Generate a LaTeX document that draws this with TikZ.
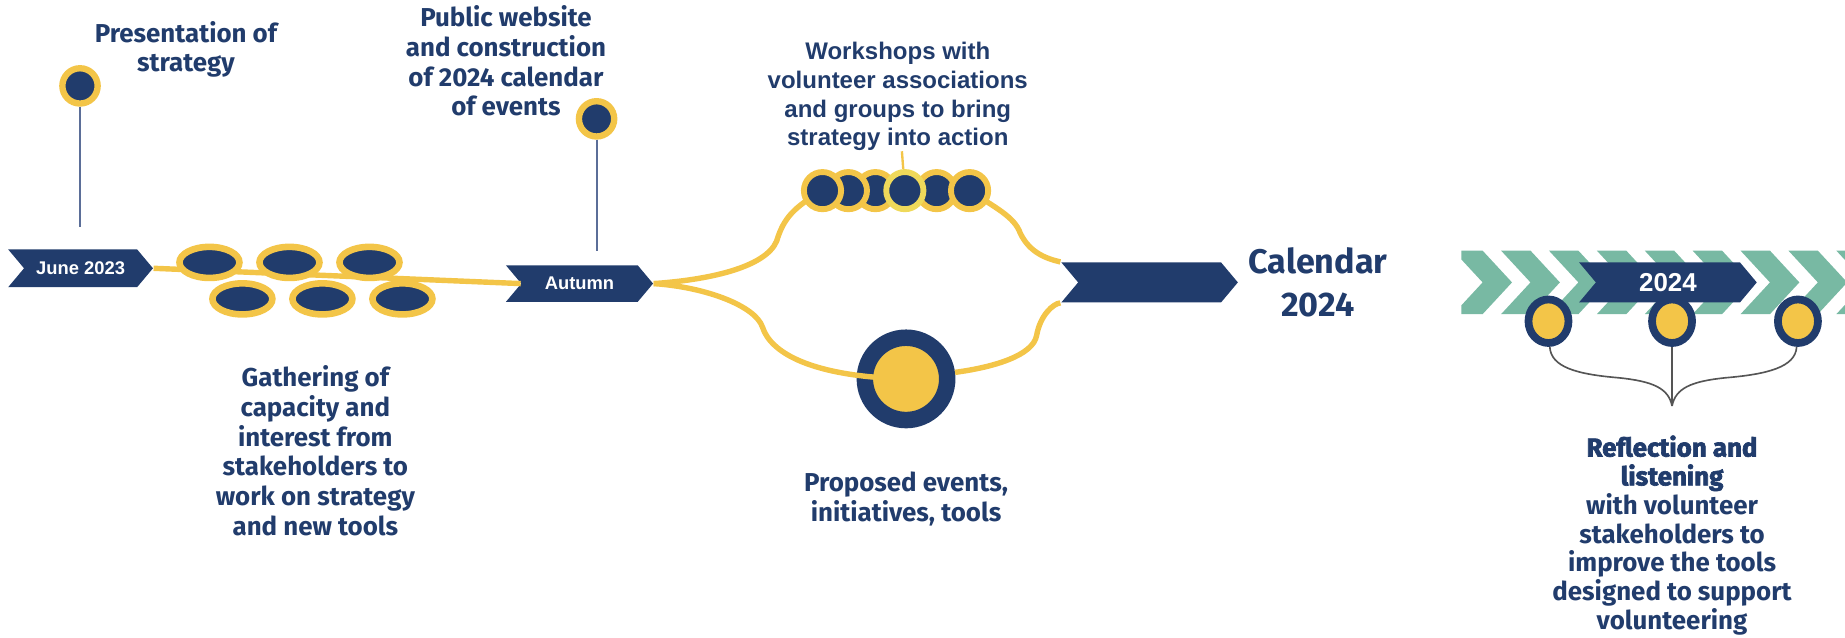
\documentclass[tikz,border=0pt]{standalone}
\usepackage{fontspec}
\setmainfont{Fira Sans}
\newfontfamily\bannerfont{Liberation Sans}
\newfontfamily\heavyfont{Fira Sans}[BoldFeatures={FakeBold=2.6}]
\usetikzlibrary{shapes.geometric, shapes.symbols, positioning}

\definecolor{navy}{HTML}{213C6C}
\definecolor{gold}{HTML}{F3C548}
\definecolor{palegold}{HTML}{EFD95A}
\definecolor{chevgreen}{HTML}{78B9A3}
\definecolor{slate}{HTML}{5B6E98}
\definecolor{wiregray}{HTML}{555555}

\begin{document}
\begin{tikzpicture}[x=0.5pt, y=-0.5pt,
    note/.style={text=navy, font=\bfseries\fontsize{11}{12.6}\selectfont, align=center, inner sep=0},
    banner/.style={signal, signal from=west, signal to=east, signal pointer angle=100,
        fill=navy, text=white, inner sep=0, minimum height=16pt,
        font=\bannerfont\bfseries\fontsize{7.8}{9}\selectfont},
    dot/.style={circle, fill=navy, draw=gold, line width=2.7pt, minimum size=15pt, inner sep=0},
    bead/.style={ellipse, fill=navy, draw=gold, line width=2.8pt, minimum width=25.5pt, minimum height=13.2pt, inner sep=0},
    ring/.style={circle, fill=navy, draw=gold, line width=2.5pt, minimum size=15.8pt, inner sep=0},
    hub/.style={circle, fill=gold, draw=navy, line width=7pt, minimum size=35pt, inner sep=0},
    milestone/.style={ellipse, fill=gold, draw=navy, line width=3.3pt, minimum width=17pt, minimum height=18.5pt, inner sep=0},
    track/.style={gold, line width=2.3pt},
    stem/.style={slate, line width=0.8pt},
    wire/.style={wiregray, line width=0.7pt}]
    \useasboundingbox (0,0) rectangle (1568,542);
    \def\pitch{40.7}
    \newcommand{\chevronat}[1]{
        \fill[chevgreen] (#1,213) -- (#1+25,213) -- (#1+50,240) -- (#1+25,267) -- (#1,267) -- (#1+25,240) -- cycle;
    }

    % start of strategy
    \node[dot] (present) at (68,73) {};
    \coordinate (presentfoot) at (68,193);
    \draw[stem] (present) -- (presentfoot);
    \node[note] (presenttxt) at (158,42) {Presentation of\\strategy};
    \node[banner, minimum width=61.5pt] (june) at (68.5,228) {June 2023};

    % gathering
    \node[banner, minimum width=62.5pt, minimum height=15.5pt] (autumn) at (492.5,241) {Autumn};
    \draw[track] (june.east) -- (autumn.west);
    \node[bead] (g4) at (206,254) {};
    \node[bead] (g5) at (274,254) {};
    \node[bead] (g6) at (342,254) {};
    \node[bead] (g1) at (178,223) {};
    \node[bead] (g2) at (246,223) {};
    \node[bead] (g3) at (314,223) {};
    \node[note] (gathertxt) at (268,383) {Gathering of\\capacity and\\interest from\\stakeholders to\\work on strategy\\and new tools};

    % website
    \node[dot] (website) at (507,101) {};
    \coordinate (websitefoot) at (507,213);
    \draw[stem] (website) -- (websitefoot);
    \node[note] (websitetxt) at (430,52) {Public website\\and construction\\of 2024 calendar\\of events};

    % two branches
    \node[banner, minimum width=75pt, minimum height=17pt] (bigbar) at (977,240) {};
    \node[hub] (hub) at (770,322) {};
    \draw[track] (autumn.east) .. controls (600,238) and (650,228) .. (660,205)
        .. controls (666,185) and (675,176) .. (699,162);
    \draw[track] (824,162) .. controls (845,176) and (862,184) .. (867,198)
        .. controls (875,215) and (890,220) .. (bigbar.north west);
    \draw[track] (autumn.east) .. controls (600,244) and (642,260) .. (648,278)
        .. controls (655,300) and (690,320) .. (hub.center);
    \draw[track] (hub) .. controls (845,312) and (878,302) .. (881,285)
        .. controls (884,268) and (895,258) .. (bigbar.south west);
    \node[ring] (w3) at (744,162) {};
    \node[ring] (w5) at (796,162) {};
    \node[ring] (w2) at (721,162) {};
    \node[ring] (w1) at (699,162) {};
    \node[ring, draw=palegold] (w4) at (769,162) {};
    \node[ring] (w6) at (824,162) {};
    \node[note, font=\bannerfont\bfseries\fontsize{10.2}{12.2}\selectfont] (worktxt) at (763,82)
        {Workshops with\\volunteer associations\\and groups to bring\\strategy into action};
    \draw[gold, line width=1pt] (w4) -- (worktxt);
    \node[note] (proposetxt) at (770,424) {Proposed events,\\initiatives, tools};

    % calendar
    \node[note, font=\bfseries\fontsize{14.5}{18}\selectfont] (caltxt) at (1120,240) {Calendar\\2024};
    \begin{scope}
        \clip (1242,200) rectangle (1568,280);
        \foreach \k in {0,...,8}{
            \chevronat{1235+\k*\pitch}
        }
    \end{scope}
    \node[banner, minimum width=75.5pt, minimum height=17pt, font=\bannerfont\bfseries\fontsize{11}{13}\selectfont] (yearbar) at (1417.5,240) {2024};

    % reflection
    \node[milestone] (m1) at (1316,273) {};
    \node[milestone] (m2) at (1421,273) {};
    \node[milestone] (m3) at (1528,273) {};
    \coordinate (bracetip) at (1421,345);
    \draw[wire] (m1) .. controls (1318,312) and (1340,318) .. (1375,321)
        .. controls (1405,324) and (1418,330) .. (bracetip);
    \draw[wire] (m2) -- (bracetip);
    \draw[wire] (m3) .. controls (1526,312) and (1502,318) .. (1467,321)
        .. controls (1437,324) and (1424,330) .. (bracetip);
    \node[note, font=\bfseries\fontsize{11}{12.25}\selectfont] (reflecttxt) at (1421,455) {{\heavyfont\bfseries Reflection and}\\{\heavyfont\bfseries listening}\\with volunteer\\stakeholders to\\improve the tools\\designed to support\\volunteering};
\end{tikzpicture}
\end{document}
